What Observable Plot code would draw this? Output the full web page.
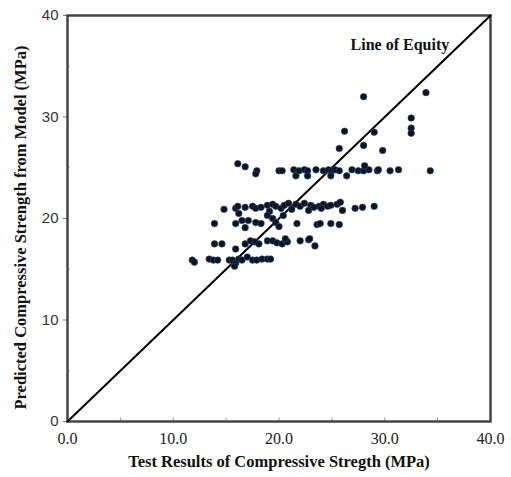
<!DOCTYPE html>
<html>
<head>
<meta charset="utf-8">
<script src="https://cdn.jsdelivr.net/npm/d3@7"></script>
<script src="https://cdn.jsdelivr.net/npm/@observablehq/plot@0.6"></script>
<style>
  html, body { margin: 0; padding: 0; background: #fff; }
  #chart svg { display: block; }
</style>
</head>
<body>
<div id="chart"></div>
<script>
// Test results (x) and model predictions (y), MPa
const testValues = [
  // upper band ~24-25
  16.1, 16.8, 17.9, 17.8, 20.0, 20.3, 21.4, 21.9, 22.4, 22.7, 23.5, 24.2, 24.7, 25.0, 25.3, 25.7, 26.9, 27.5, 28.0, 28.5, 29.3, 29.4, 30.5, 31.3, 34.3,
  21.6, 22.7, 24.9, 26.4, 28.1,
  // top outliers
  28.0, 33.9, 32.5, 32.5, 32.5, 26.2, 29.0, 25.7, 28.0, 29.8,
  // band ~21
  14.8, 15.9, 16.1, 16.8, 17.5, 17.8, 18.3, 18.9, 19.4, 19.7, 20.2, 20.5, 20.9, 21.6, 22.0, 22.4, 23.0, 23.3, 23.8, 24.2, 24.6, 24.9, 25.5, 25.8, 26.0, 27.2, 27.9, 29.0, 19.1, 21.2, 22.8, 24.0,
  // band ~19.5
  13.9, 15.9, 16.2, 16.5, 17.1, 17.8, 18.3, 16.8, 18.9, 19.4, 19.7, 20.0, 21.7, 23.6, 23.9, 24.9, 25.7, 20.4,
  // band ~17.5
  13.9, 14.6, 15.9, 16.8, 17.3, 17.7, 18.1, 18.9, 19.4, 19.8, 20.3, 20.8, 22.0, 22.8, 23.4, 20.6, 22.9,
  // band ~16
  11.8, 12.0, 13.4, 13.8, 14.2, 15.3, 15.6, 15.9, 16.2, 16.5, 17.0, 17.5, 17.9, 18.4, 18.9, 19.2, 15.8
];
const predictedValues = [
  25.4, 25.1, 24.7, 24.4, 24.7, 24.7, 24.8, 24.7, 24.8, 24.7, 24.8, 24.7, 24.8, 24.7, 24.8, 24.7, 24.8, 24.7, 24.7, 24.8, 24.7, 24.8, 24.7, 24.8, 24.7,
  24.2, 24.2, 24.2, 24.2, 25.2,
  32.0, 32.4, 29.9, 28.9, 28.4, 28.6, 28.5, 26.9, 27.2, 26.7,
  20.9, 21.0, 21.2, 21.1, 21.2, 21.0, 21.1, 21.3, 21.4, 21.2, 21.0, 21.3, 21.5, 21.4, 21.2, 21.5, 21.3, 21.1, 21.2, 21.4, 21.2, 21.3, 21.4, 21.6, 20.8, 21.0, 21.1, 21.2, 20.7, 20.9, 20.8, 21.0,
  19.5, 19.5, 20.5, 19.8, 19.8, 19.6, 19.5, 19.1, 20.3, 20.0, 19.6, 19.2, 19.5, 19.4, 19.5, 19.5, 19.4, 20.3,
  17.5, 17.5, 17.0, 17.5, 17.8, 17.7, 17.5, 17.8, 17.8, 17.6, 17.5, 17.7, 17.8, 17.9, 17.3, 18.0, 18.0,
  15.9, 15.7, 16.0, 15.9, 15.9, 15.9, 15.9, 15.6, 16.0, 15.9, 16.2, 15.9, 15.9, 16.0, 16.0, 16.0, 15.3
];
const xTicks = [0, 10, 20, 30, 40];
const yTicks = [0, 10, 20, 30, 40];
const minorTicks = [5, 15, 25, 35];
const equityLine = [0, 40];
const equityLabel = ["Line of Equity"];
const xTitle = "Test Results of Compressive Stregth (MPa)";
const yTitle = "Predicted Compressive Strength from Model (MPa)";

const points = testValues.map((t, i) => ({ test: t, predicted: predictedValues[i] }));

const serif = "'Liberation Serif', 'DejaVu Serif', serif";
const sans = "'Liberation Sans', Arial, sans-serif";

const chart = Plot.plot({
  width: 511,
  height: 477,
  marginLeft: 67,
  marginRight: 21,
  marginTop: 15,
  marginBottom: 56,
  x: { domain: [0, 40] },
  y: { domain: [0, 40] },
  marks: [
    // minor inner ticks
    Plot.ruleX(minorTicks.concat([10, 20, 30]), { y1: 0, y2: 0.35, stroke: "#999", strokeWidth: 1 }),
    Plot.ruleY(minorTicks, { x1: 0, x2: 0.3, stroke: "#bbb", strokeWidth: 1 }),
    Plot.axisY({
      ticks: yTicks, tickSize: 4, tickPadding: 5, label: null,
      fontFamily: sans, fontSize: 15, color: "#333", stroke: "#777"
    }),
    Plot.axisX({
      ticks: xTicks, tickSize: 0, tickPadding: 11, label: null,
      tickFormat: d => d.toFixed(1),
      fontFamily: serif, fontSize: 16, color: "#222"
    }),
    Plot.frame({ stroke: "#444", strokeWidth: 2.5 }),
    Plot.line(equityLine.map(v => ({ a: v, b: v })), { x: "a", y: "b", stroke: "#000", strokeWidth: 2 }),
    Plot.dot(points, { x: "test", y: "predicted", r: 3.3, fill: "#0b1422", stroke: "#2d4f7c", strokeWidth: 0.6 }),
    Plot.text(equityLabel, {
      x: () => 36.1, y: () => 37.1, text: d => d, textAnchor: "end",
      fontFamily: serif, fontWeight: "bold", fontSize: 16, fill: "#111"
    }),
    Plot.text([xTitle], {
      frameAnchor: "bottom", dy: 45, text: d => d, textAnchor: "middle",
      fontFamily: serif, fontWeight: "bold", fontSize: 16.5, fill: "#111"
    }),
    Plot.text([yTitle], {
      frameAnchor: "left", dx: -47, dy: 9, rotate: -90, text: d => d, textAnchor: "middle",
      fontFamily: serif, fontWeight: "bold", fontSize: 16.5, fill: "#111"
    })
  ]
});

document.getElementById("chart").appendChild(chart);
</script>
</body>
</html>
